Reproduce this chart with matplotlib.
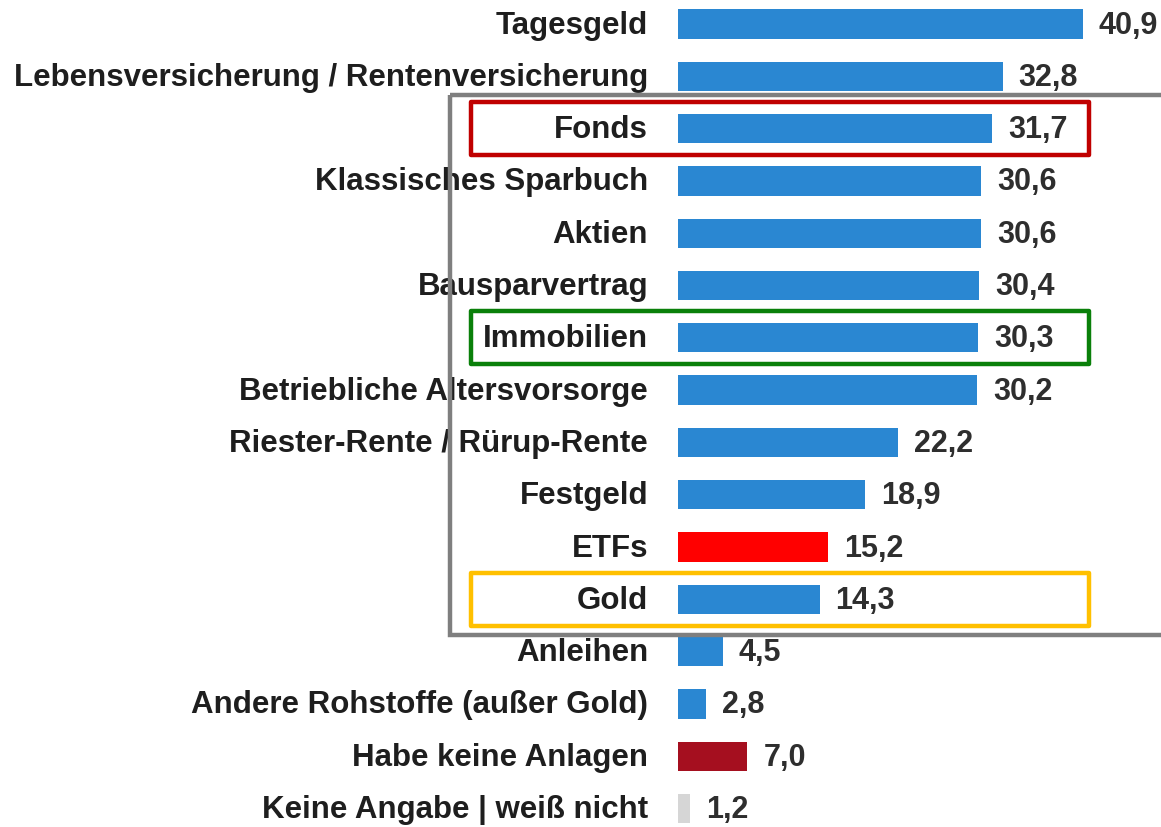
import matplotlib
matplotlib.use("Agg")
from matplotlib import pyplot as plt
from matplotlib.patches import Rectangle

categories = ["Tagesgeld", "Lebensversicherung / Rentenversicherung", "Fonds",
              "Klassisches Sparbuch", "Aktien", "Bausparvertrag", "Immobilien",
              "Betriebliche Altersvorsorge", "Riester-Rente / Rürup-Rente",
              "Festgeld", "ETFs", "Gold", "Anleihen",
              "Andere Rohstoffe (außer Gold)", "Habe keine Anlagen",
              "Keine Angabe | weiß nicht"]
values = [40.9, 32.8, 31.7, 30.6, 30.6, 30.4, 30.3, 30.2, 22.2, 18.9, 15.2,
          14.3, 4.5, 2.8, 7.0, 1.2]
value_labels = ["40,9", "32,8", "31,7", "30,6", "30,6", "30,4", "30,3", "30,2",
                "22,2", "18,9", "15,2", "14,3", "4,5", "2,8", "7,0", "1,2"]

blue = "#2a87d2"
colors = [blue] * 16
colors[10] = "#ff0000"
colors[14] = "#a50f1f"
colors[15] = "#d6d6d6"

# highlight boxes: (row, colour)
highlights = [(2, "#c00000"), (6, "#0a800a"), (11, "#ffc000")]

plt.rcParams['font.family'] = ['Liberation Sans', 'DejaVu Sans']

fig = plt.figure(figsize=(11.61, 8.27), dpi=100)
W, H = 1161, 827
px = 9.9          # pixels per percent
row = 52.3        # pixels per row
x0 = 678
ax = fig.add_axes([x0 / W, 0, (W - x0) / W, 1])
ax.set_xlim(0, (W - x0) / px)
ax.set_ylim((H - 24) / row, -24 / row)
ax.axis("off")

y = list(range(len(categories)))
ax.barh(y, values, height=0.56, color=colors)

for i, (cat, v, lab) in enumerate(zip(categories, values, value_labels)):
    ax.text(-30 / px, i + 0.03, cat, ha="right", va="center", fontsize=22.5,
            fontweight="bold", color="#1e1e1e", clip_on=False)
    ax.text(v + 16 / px, i + 0.03, lab, ha="left", va="center", fontsize=22,
            fontweight="bold", color="#2e2e2e", clip_on=False)

# grey frame around Fonds..Gold
ax.add_patch(Rectangle((-228 / px, 1.36), 800 / px, 10.32, fill=False,
                       edgecolor="#7f7f7f", linewidth=3.2, clip_on=False,
                       zorder=3))
for r, c in highlights:
    ax.add_patch(Rectangle((-207 / px, r - 0.51), 618 / px, 1.02, fill=False,
                           edgecolor=c, linewidth=3.2, clip_on=False,
                           joinstyle="round", zorder=4))

fig.savefig("out.png", dpi=100)
